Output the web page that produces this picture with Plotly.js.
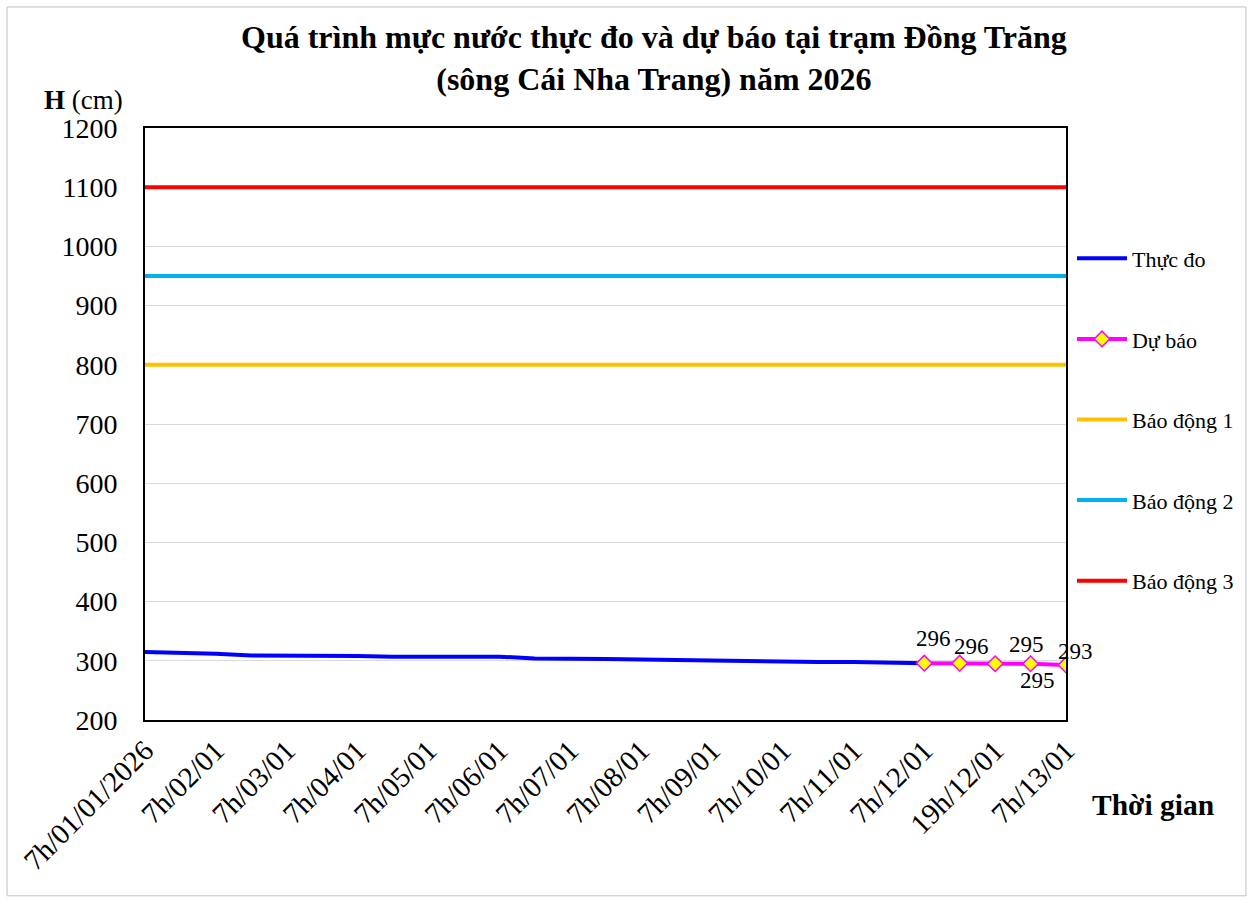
<!DOCTYPE html>
<html>
<head>
<meta charset="utf-8">
<script src="https://cdn.plot.ly/plotly-3.0.1.min.js"></script>
<style>html,body{margin:0;padding:0;background:#fff;}#chart{width:1253px;height:903px;}</style>
</head>
<body>
<div id="chart"></div>
<script>
const categories = ["7h/01/01/2026","19h/01/01","7h/02/01","19h/02/01","7h/03/01","19h/03/01","7h/04/01","19h/04/01","7h/05/01","19h/05/01","7h/06/01","19h/06/01","7h/07/01","19h/07/01","7h/08/01","19h/08/01","7h/09/01","19h/09/01","7h/10/01","19h/10/01","7h/11/01","19h/11/01","7h/12/01","13h/12/01","19h/12/01","1h/13/01","7h/13/01"];
const observedCats = categories.slice(0, 23);
const observedValues = [315,314,312,309,309,309,308,307,307,306,307,304,304,303,302,301,301,300,299,298,298,297,296];
const forecastCats = ["7h/12/01","13h/12/01","19h/12/01","1h/13/01","7h/13/01"];
const forecastValues = [296,296,295,295,293];
const alarm1 = 800, alarm2 = 950, alarm3 = 1100;
const tickLabels = ["7h/01/01/2026","7h/02/01","7h/03/01","7h/04/01","7h/05/01","7h/06/01","7h/07/01","7h/08/01","7h/09/01","7h/10/01","7h/11/01","7h/12/01","19h/12/01","7h/13/01"];
const tickCats = ["7h/01/01/2026","7h/02/01","7h/03/01","7h/04/01","7h/05/01","7h/06/01","7h/07/01","7h/08/01","7h/09/01","7h/10/01","7h/11/01","7h/12/01","19h/12/01","7h/13/01"];

const FONT = "Liberation Serif, Times New Roman, serif";
const constLine = v => categories.map(() => v);

const traces = [
  {x: observedCats, y: observedValues, name: "Thực đo", mode: "lines", line: {color: "#0000FF", width: 4}, legendgroup: "a"},
  {x: forecastCats, y: forecastValues, name: "Dự báo", mode: "lines+markers", line: {color: "#FF00FF", width: 4},
   marker: {symbol: "diamond", size: 12, color: "#FFFF00", line: {color: "#FF00FF", width: 1.5}}, legendgroup: "b"},
  {x: categories, y: constLine(alarm1), name: "Báo động 1", mode: "lines", line: {color: "#FFC000", width: 4}, legendgroup: "c"},
  {x: categories, y: constLine(alarm2), name: "Báo động 2", mode: "lines", line: {color: "#00B0F0", width: 4}, legendgroup: "d"},
  {x: categories, y: constLine(alarm3), name: "Báo động 3", mode: "lines", line: {color: "#FF0000", width: 4}, legendgroup: "e"}
];

const labelShifts = [[9,25],[12,17],[31,19],[7,-17],[9,13]];
const annotations = forecastValues.map((v, i) => ({
  x: forecastCats[i], y: v, xref: "x", yref: "y", text: String(v), showarrow: false,
  xshift: labelShifts[i][0], yshift: labelShifts[i][1], font: {family: FONT, size: 23, color: "#000"}
}));
annotations.push({xref: "paper", yref: "paper", x: (654 - 145) / 921, y: (720 - 58) / 592, xanchor: "center", yanchor: "middle",
  text: "<b>Quá trình mực nước thực đo và dự báo tại trạm Đồng Trăng<br>(sông Cái Nha Trang) năm 2026</b>",
  showarrow: false, font: {family: FONT, size: 32, color: "#000"}});
annotations.push({xref: "paper", yref: "paper", x: -0.0217, y: (720 - 100) / 592, xanchor: "right", yanchor: "middle",
  text: "<b>H</b> (cm)", showarrow: false, font: {family: FONT, size: 27, color: "#000"}});
annotations.push({xref: "paper", yref: "paper", x: (1090 - 145) / 921, y: (720 - 805) / 592, xanchor: "left", yanchor: "middle",
  text: "<b>Thời gian</b>", showarrow: false, font: {family: FONT, size: 29.5, color: "#000"}});

const layout = {
  width: 1253, height: 903,
  margin: {l: 145, r: 187, t: 128, b: 183, autoexpand: false},
  paper_bgcolor: "#fff", plot_bgcolor: "#fff",
  xaxis: {type: "category", categoryorder: "array", categoryarray: categories, range: [0, categories.length - 1],
    tickvals: tickCats, ticktext: tickLabels, tickangle: -45, ticks: "", showgrid: false,
    showline: true, linecolor: "#000", linewidth: 2, mirror: true, zeroline: false,
    tickfont: {family: FONT, size: 29, color: "#000"}},
  yaxis: {range: [200, 1200], dtick: 100, tick0: 200, showgrid: true, gridcolor: "#d9d9d9", gridwidth: 1,
    showline: true, linecolor: "#000", linewidth: 2, mirror: true, zeroline: false, ticks: "",
    ticklabelstandoff: 20,
    tickfont: {family: FONT, size: 28, color: "#000"}},
  showlegend: true,
  legend: {x: 1.0065, xanchor: "left", y: 0.815, yanchor: "top", tracegroupgap: 49, traceorder: "grouped",
    itemwidth: 50,
    font: {family: FONT, size: 22, color: "#000"}, bgcolor: "rgba(0,0,0,0)"},
  annotations: annotations,
  shapes: [{type: "rect", xref: "paper", yref: "paper", x0: -0.1498, x1: 1.1954, y0: -0.297, y1: 1.2044,
    line: {color: "#bfbfbf", width: 1}, fillcolor: "rgba(0,0,0,0)", layer: "below"}]
};

Plotly.newPlot("chart", traces, layout, {staticPlot: true});
</script>
</body>
</html>
